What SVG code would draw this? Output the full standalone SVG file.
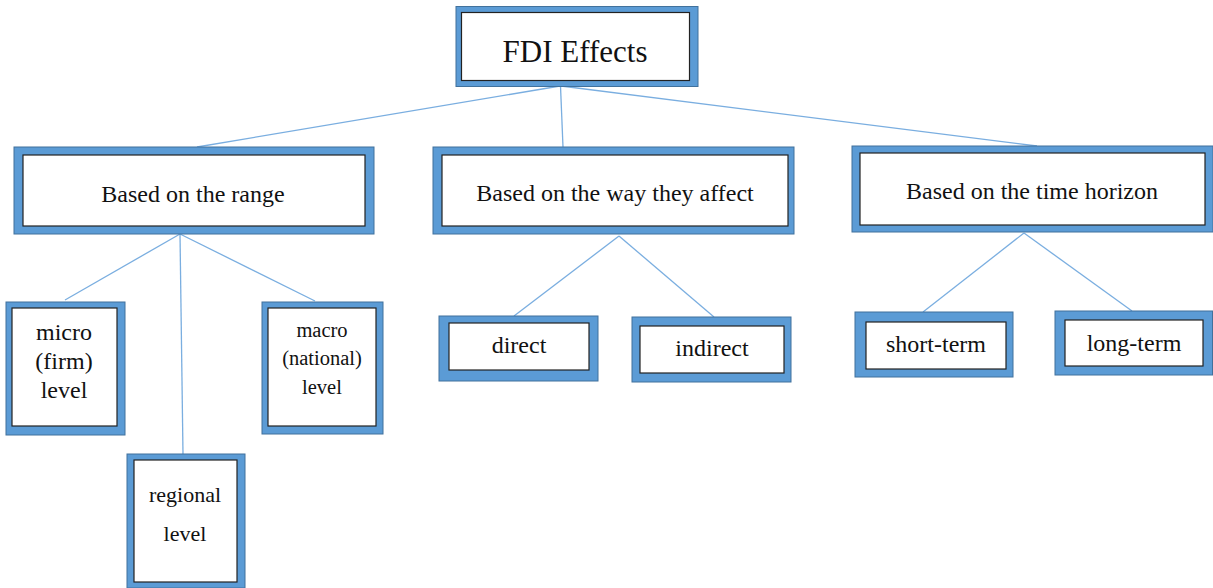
<svg xmlns="http://www.w3.org/2000/svg" width="1213" height="588" viewBox="0 0 1213 588">
<style>
.o{fill:#5B9BD5;stroke:#41719C;stroke-width:1}
.i{fill:#fff;stroke:#222;stroke-width:1.2}
.t{font-family:"Liberation Serif","Times New Roman",serif;fill:#111;text-anchor:middle}
.c{stroke:#7AAEE0;stroke-width:1.3;fill:none}
</style>
<rect width="1213" height="588" fill="#fff"/>
<g id="connectors">
<line class="c" x1="560" y1="86" x2="197" y2="147"/>
<line class="c" x1="560.5" y1="86" x2="563" y2="147"/>
<line class="c" x1="561" y1="86" x2="1037" y2="146"/>
<line class="c" x1="180" y1="234" x2="65" y2="300"/>
<line class="c" x1="180" y1="234" x2="183" y2="454"/>
<line class="c" x1="180" y1="234" x2="315" y2="301"/>
<line class="c" x1="619" y1="236" x2="514" y2="316"/>
<line class="c" x1="619" y1="236" x2="714" y2="317"/>
<line class="c" x1="1024" y1="233" x2="923" y2="312"/>
<line class="c" x1="1024" y1="233" x2="1132" y2="311"/>
</g>
<g id="root">
<rect class="o" x="456" y="6.5" width="242" height="80"/>
<rect class="i" x="461.5" y="12.5" width="228" height="68"/>
<text class="t" x="575" y="62" font-size="31">FDI Effects</text>
</g>
<g id="range">
<rect class="o" x="14" y="147" width="360" height="87"/>
<rect class="i" x="23" y="155" width="342" height="71"/>
<text class="t" x="193" y="202" font-size="24">Based on the range</text>
</g>
<g id="way">
<rect class="o" x="433" y="147" width="361" height="87"/>
<rect class="i" x="442" y="155" width="346" height="71"/>
<text class="t" x="615" y="201" font-size="24">Based on the way they affect</text>
</g>
<g id="time">
<rect class="o" x="852" y="146" width="361" height="86"/>
<rect class="i" x="860" y="153" width="345" height="72"/>
<text class="t" x="1032" y="199" font-size="24">Based on the time horizon</text>
</g>
<g id="micro">
<rect class="o" x="6" y="302" width="119" height="133"/>
<rect class="i" x="12" y="308" width="105" height="118"/>
<text class="t" x="64" y="340" font-size="24">micro</text>
<text class="t" x="64" y="369" font-size="24">(firm)</text>
<text class="t" x="64" y="398" font-size="24">level</text>
</g>
<g id="regional">
<rect class="o" x="127" y="454" width="118" height="134"/>
<rect class="i" x="134" y="460" width="103" height="122"/>
<text class="t" x="185" y="502" font-size="22">regional</text>
<text class="t" x="185" y="541" font-size="22">level</text>
</g>
<g id="macro">
<rect class="o" x="262" y="302" width="121" height="132"/>
<rect class="i" x="268" y="308" width="108" height="118"/>
<text class="t" x="322" y="337" font-size="20.5">macro</text>
<text class="t" x="322" y="365" font-size="20.5">(national)</text>
<text class="t" x="322" y="394" font-size="20.5">level</text>
</g>
<g id="direct">
<rect class="o" x="439" y="316" width="159" height="65"/>
<rect class="i" x="449" y="323" width="140" height="47"/>
<text class="t" x="519" y="353" font-size="24">direct</text>
</g>
<g id="indirect">
<rect class="o" x="632" y="317" width="159" height="65"/>
<rect class="i" x="640" y="326" width="144" height="47"/>
<text class="t" x="712" y="356" font-size="24">indirect</text>
</g>
<g id="shortterm">
<rect class="o" x="855" y="312" width="158" height="65"/>
<rect class="i" x="866" y="322" width="140" height="47"/>
<text class="t" x="936" y="352" font-size="24">short-term</text>
</g>
<g id="longterm">
<rect class="o" x="1055" y="311" width="157.5" height="64"/>
<rect class="i" x="1065" y="320" width="138" height="46"/>
<text class="t" x="1134" y="351" font-size="24">long-term</text>
</g>
</svg>
